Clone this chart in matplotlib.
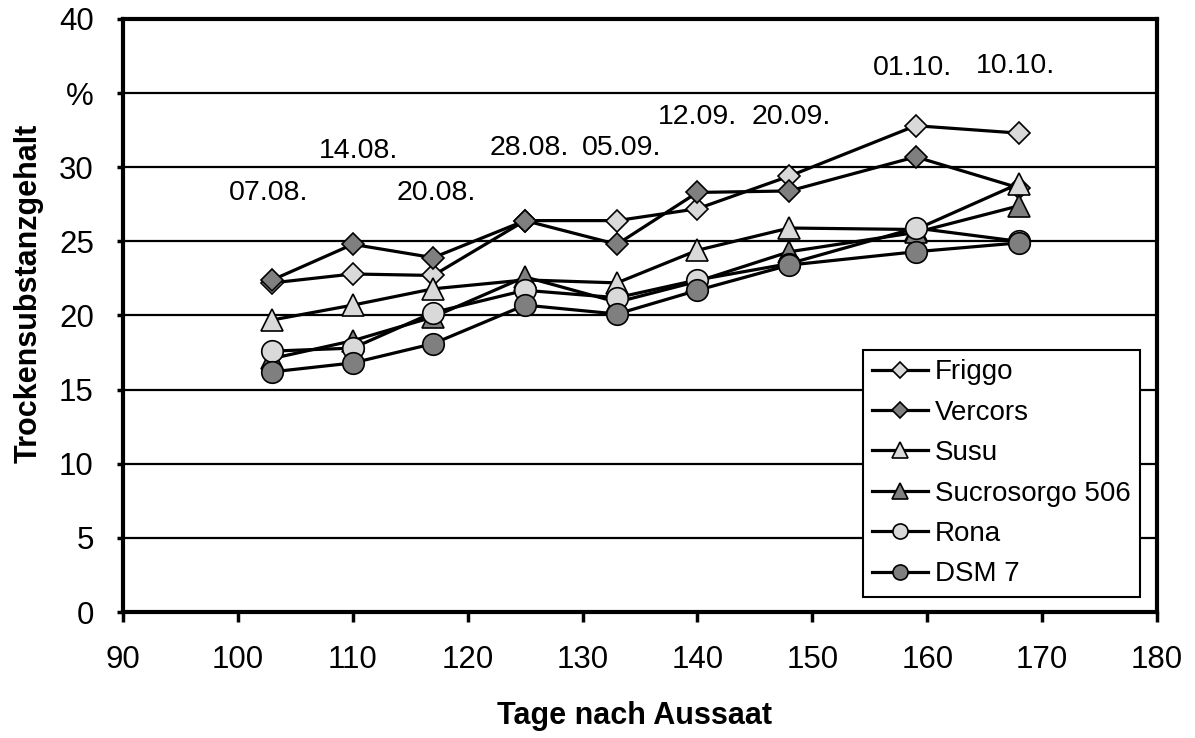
import matplotlib
matplotlib.use("Agg")
import matplotlib.pyplot as plt

plt.rcParams['font.family'] = ['Liberation Sans', 'DejaVu Sans']

days = [103, 110, 117, 125, 133, 140, 148, 159, 168]
dates = ["07.08.", "14.08.", "20.08.", "28.08.", "05.09.", "12.09.", "20.09.", "01.10.", "10.10."]
# where each harvest date label sits (data coordinates)
date_label_x = [102.7, 110.5, 117.3, 125.4, 133.4, 140.0, 148.2, 158.7, 167.7]
date_label_y = [28.25, 31.1, 28.25, 31.3, 31.3, 33.4, 33.4, 36.7, 36.8]

friggo = [22.2, 22.8, 22.7, 26.4, 26.4, 27.2, 29.4, 32.8, 32.3]
vercors = [22.4, 24.8, 23.9, 26.4, 24.8, 28.3, 28.4, 30.7, 28.6]
susu = [19.7, 20.7, 21.8, 22.4, 22.2, 24.4, 25.9, 25.8, 28.9]
sucrosorgo = [17.1, 18.3, 19.9, 22.6, 20.9, 22.3, 24.3, 25.6, 27.4]
rona = [17.6, 17.8, 20.2, 21.7, 21.2, 22.4, 23.5, 25.9, 25.0]
dsm7 = [16.2, 16.8, 18.1, 20.7, 20.1, 21.7, 23.4, 24.3, 24.9]

names = ["Friggo", "Vercors", "Susu", "Sucrosorgo 506", "Rona", "DSM 7"]
values = [friggo, vercors, susu, sucrosorgo, rona, dsm7]

light = "#d9d9d9"
dark = "#7f7f7f"
styles = [("D", light, 11), ("D", dark, 11), ("^", light, 16),
          ("^", dark, 16), ("o", light, 15.5), ("o", dark, 15.5)]

fig = plt.figure(figsize=(11.95, 7.38), dpi=100)
ax = fig.add_axes([0.1029, 0.1707, 0.9682 - 0.1029, 0.9743 - 0.1707])

for name, vals, (mk, fc, ms) in zip(names, values, styles):
    ax.plot(days, vals, color="black", lw=2.3, marker=mk, markersize=ms,
            markerfacecolor=fc, markeredgecolor="black", markeredgewidth=1.2,
            label=name)

for x, y, lab in zip(date_label_x, date_label_y, dates):
    ax.text(x, y, lab, ha="center", va="center", fontsize=20.5)

ax.set_xlim(90, 180)
ax.set_ylim(0, 40)
ax.set_xticks(range(90, 181, 10))
ax.set_yticks(range(0, 41, 5))
ax.set_yticklabels(["0", "5", "10", "15", "20", "25", "30", "%", "40"])
ax.yaxis.grid(True, color="black", lw=1.6)
ax.set_axisbelow(True)
for sp in ax.spines.values():
    sp.set_linewidth(3)
ax.tick_params(axis="both", labelsize=22.5, width=2.5, direction="out")
ax.tick_params(axis="x", length=7, pad=17)
ax.tick_params(axis="y", length=4, pad=17)

ax.set_xlabel("Tage nach Aussaat", fontsize=22, fontweight="bold")
ax.set_ylabel("Trockensubstanzgehalt", fontsize=22, fontweight="bold")
ax.xaxis.set_label_coords(0.495, -0.150)
ax.yaxis.set_label_coords(-0.0766, 0.538)

leg = ax.legend(loc="lower right", bbox_to_anchor=(0.984, 0.025), borderaxespad=0,
                fontsize=20, fancybox=False, framealpha=1, edgecolor="black",
                markerscale=0.7, handlelength=2.0, labelspacing=0.52,
                handletextpad=0.25, borderpad=0.35)
leg.get_frame().set_linewidth(1.5)

fig.savefig("out.png", dpi=100)
